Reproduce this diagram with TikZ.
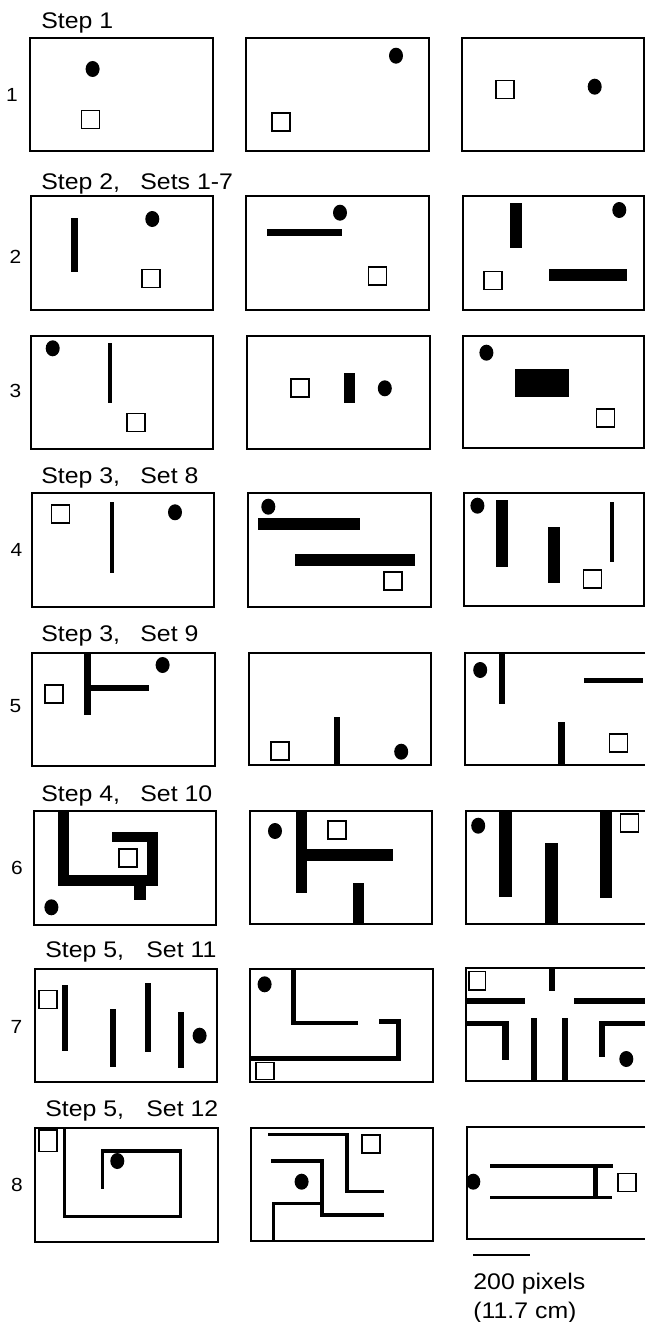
\documentclass[tikz,border=0pt]{standalone}
\usepackage{fontspec}
\setmainfont{Liberation Sans}
\newfontfamily\labfont[FakeStretch=1.1]{Liberation Sans}
\newcommand\mzdot[2]{\fill (#1,#2) ellipse [x radius=3.5pt, y radius=4pt];}
\newcommand\mzgoal[2]{\draw[goal] ({#1-9},{#2-9}) rectangle ({#1+9},{#2+9});}
\newcommand\mzwall[4]{\fill (#1,#2) rectangle (#3,#4);}
\begin{document}
\begin{tikzpicture}[x=0.5pt,y=-0.5pt,
  frame/.style={line width=1pt},
  goal/.style={line width=0.75pt, fill=white},
  title/.style={anchor=base west, inner sep=0pt, font=\labfont\fontsize{11.3pt}{13pt}\selectfont},
  rowlab/.style={anchor=center, inner sep=0pt, font=\labfont\fontsize{9.5pt}{11pt}\selectfont}]
\useasboundingbox (0,0) rectangle (645,1322);
\fill[white] (0,0) rectangle (645,1322);

% ---------- titles and row labels
\node[title] (t1) at (41,29) {Step 1};
\node[title] (t2) at (41,190) {\makebox[49.5pt][l]{Step 2,}Sets 1-7};
\node[title] (t4) at (41,483) {\makebox[49.5pt][l]{Step 3,}Set 8};
\node[title] (t5) at (41,641) {\makebox[49.5pt][l]{Step 3,}Set 9};
\node[title] (t6) at (41,801) {\makebox[49.5pt][l]{Step 4,}Set 10};
\node[title] (t7) at (45,957) {\makebox[50.5pt][l]{Step 5,}Set 11};
\node[title] (t8) at (45,1116) {\makebox[50.5pt][l]{Step 5,}Set 12};
\node[rowlab] (r1) at (12,95) {1};
\node[rowlab] (r2) at (15.5,257) {2};
\node[rowlab] (r3) at (15.5,391) {3};
\node[rowlab] (r4) at (16.5,550) {4};
\node[rowlab] (r5) at (15.5,706) {5};
\node[rowlab] (r6) at (17,868) {6};
\node[rowlab] (r7) at (16.5,1027) {7};
\node[rowlab] (r8) at (17,1185) {8};

% ---------- row 1
\draw[frame] (30,38.5) rectangle (213,150.5);
\draw[frame] (246,38.5) rectangle (429,150.5);
\draw[frame] (462,38.5) rectangle (643.5,150.5);
\mzdot{92.6}{69} \mzgoal{90.5}{119.7}
\mzdot{396}{55.7} \mzgoal{281}{122}
\mzgoal{505}{89.3} \mzdot{594.7}{86.7}

% ---------- row 2
\draw[frame] (31,196) rectangle (213,310);
\draw[frame] (246,196) rectangle (429,310);
\draw[frame] (463,196) rectangle (643.5,310);
\mzwall{71}{218}{78}{272} \mzdot{152.3}{219} \mzgoal{151.2}{278.5}
\mzwall{266.7}{229}{341.6}{235.7} \mzdot{340}{212.7} \mzgoal{377.7}{275.8}
\mzwall{509.5}{202.7}{521.8}{247.7} \mzdot{619.3}{210} \mzgoal{493}{280.5}
\mzwall{549.4}{269.3}{626.7}{281}

% ---------- row 3
\draw[frame] (31,336) rectangle (213,449);
\draw[frame] (247,336) rectangle (430,449);
\draw[frame] (463,336) rectangle (643.5,448);
\mzdot{52.7}{348.3} \mzwall{108.2}{342.7}{112.3}{402.7} \mzgoal{135.8}{422.5}
\mzgoal{300}{388} \mzwall{343.6}{372.7}{355.1}{403.3} \mzdot{384.8}{388.3}
\mzdot{486.4}{352.7} \mzwall{515.2}{369.3}{569.1}{397.3} \mzgoal{605.7}{417.8}

% ---------- row 4
\draw[frame] (32,493) rectangle (214,607);
\draw[frame] (248,493) rectangle (431,607);
\draw[frame] (464,493) rectangle (643.5,606);
\mzgoal{60.7}{514.2} \mzwall{110.3}{501.7}{114.4}{573.3} \mzdot{175}{512.3}
\mzdot{268.3}{506.7} \mzwall{258.4}{517.7}{360}{530} \mzwall{294.7}{554}{414.8}{566}
\mzgoal{393}{580.8}
\mzdot{477.4}{505.7} \mzwall{495.9}{500}{508.2}{567.3} \mzwall{548}{526.7}{559.7}{583.3}
\mzwall{610.3}{501.7}{614}{562.3} \mzgoal{592.5}{578.8}

% ---------- row 5
\draw[frame] (32,653) rectangle (215,765.5);
\draw[frame] (249,653) rectangle (431,765);
\draw[frame] (645,652.5) -- (465,652.5) -- (465,764.5) -- (645,764.5);
\mzwall{84.4}{654}{90.5}{715} \mzwall{90.5}{685.3}{149}{690.7} \mzdot{162.6}{665}
\mzgoal{54}{694.2}
\mzwall{334.2}{716.7}{340.3}{765} \mzgoal{279.9}{750.9} \mzdot{401.2}{751.7}
\mzwall{499.2}{653}{505.3}{704.3} \mzdot{480.2}{670} \mzwall{583.5}{677.5}{643}{683}
\mzwall{558.4}{722.3}{565}{764.5} \mzgoal{618.5}{742.8}

% ---------- row 6
\draw[frame] (34,811) rectangle (216,924.5);
\draw[frame] (250,811) rectangle (432,924);
\draw[frame] (645,810.5) -- (466,810.5) -- (466,923.5) -- (645,923.5);
\mzwall{57.6}{811}{68.7}{886} \mzwall{57.6}{875}{158.4}{886}
\mzwall{147.3}{831.7}{158.4}{886} \mzwall{112}{831.7}{158.4}{841.7}
\mzwall{134.2}{886}{146.1}{900} \mzgoal{128.2}{857.8} \mzdot{51.4}{907.3}
\mzwall{295.5}{811}{306.6}{892.7} \mzwall{306.6}{849}{393}{861}
\mzwall{353}{883.3}{364.2}{924} \mzdot{275}{831} \mzgoal{336.8}{830}
\mzwall{499.2}{811}{512.3}{896.7} \mzwall{545.3}{843.3}{558.4}{923.5}
\mzwall{600}{811}{611.7}{898} \mzdot{478.2}{825.7} \mzgoal{629.3}{823.2}

% ---------- row 7
\draw[frame] (35,968.5) rectangle (217,1081.5);
\draw[frame] (250,968.5) rectangle (433,1081.5);
\draw[frame] (645,967.5) -- (466.3,967.5) -- (466.3,1080.5) -- (645,1080.5);
\mzgoal{47.9}{999.5}
\mzwall{61.7}{985}{67.9}{1050.7} \mzwall{109.9}{1009}{116}{1067.3}
\mzwall{144.9}{982.7}{151}{1051.7} \mzwall{178.2}{1011.7}{184.4}{1067.7}
\mzdot{199.6}{1035.7}
\mzdot{264.6}{984.3}
\mzwall{290.5}{968.5}{295.5}{1025} \mzwall{290.5}{1020.7}{358}{1025}
\mzwall{378.6}{1019.3}{401.2}{1024} \mzwall{396.3}{1019.3}{401.2}{1060.7}
\mzwall{250}{1056}{401.2}{1060.7}
\draw[goal] (256,1062.7) rectangle (274,1079.3);
\draw[goal] (469,971.7) rectangle (485.6,990);
\mzwall{548.6}{967.5}{554.7}{991}
\mzwall{466.3}{998}{524.7}{1004} \mzwall{574}{998}{645}{1004}
\mzwall{466.3}{1020.7}{509}{1025.7} \mzwall{502}{1020.7}{509}{1060}
\mzwall{530.9}{1018.3}{537}{1080.5} \mzwall{561.7}{1018.3}{567.9}{1080.5}
\mzwall{598.8}{1020.7}{645}{1026} \mzwall{598.8}{1020.7}{605}{1057.3}
\mzdot{626.3}{1059}

% ---------- row 8
\draw[frame] (35,1127.5) rectangle (218,1241.5);
\draw[frame] (251,1127.5) rectangle (433.3,1241);
\draw[frame] (645,1126.5) -- (467,1126.5) -- (467,1238.5) -- (645,1238.5);
\draw[goal] (39,1130) rectangle (56.8,1151.7);
\mzwall{62.6}{1127.5}{65.8}{1217.7} \mzwall{62.6}{1214.5}{182.3}{1217.7}
\mzwall{179}{1149.3}{182.3}{1217.7} \mzwall{100.8}{1149.3}{182.3}{1152.5}
\mzwall{100.8}{1149.3}{104.1}{1189.3} \mzdot{117.3}{1161}
\mzwall{268.3}{1132.7}{348.6}{1135.9} \mzwall{344.9}{1132.7}{348.6}{1192.7}
\mzwall{344.9}{1189.5}{383.5}{1192.7}
\mzwall{270.8}{1159.3}{323.5}{1162.5} \mzwall{320.2}{1159.3}{323.5}{1216.5}
\mzwall{320.2}{1213.3}{383.5}{1216.5}
\mzwall{271.6}{1201.7}{323.5}{1204.9} \mzwall{271.6}{1201.7}{275}{1241}
\mzgoal{371}{1144.2} \mzdot{301.6}{1181.7}
\mzdot{473.3}{1181.7}
\mzwall{489.7}{1164}{613.2}{1167.5} \mzwall{489.7}{1195.5}{612.3}{1199}
\mzwall{593.4}{1164}{597.5}{1198} \mzgoal{627}{1182.3}

% ---------- scale bar
\coordinate (sbL) at (473,1255);
\coordinate (sbR) at (530,1255);
\draw[line width=1.2pt] (sbL) -- (sbR);
\node[title] (sb1) at (473,1289) {200 pixels};
\node[title] (sb2) at (473,1318) {(11.7 cm)};
\end{tikzpicture}
\end{document}
